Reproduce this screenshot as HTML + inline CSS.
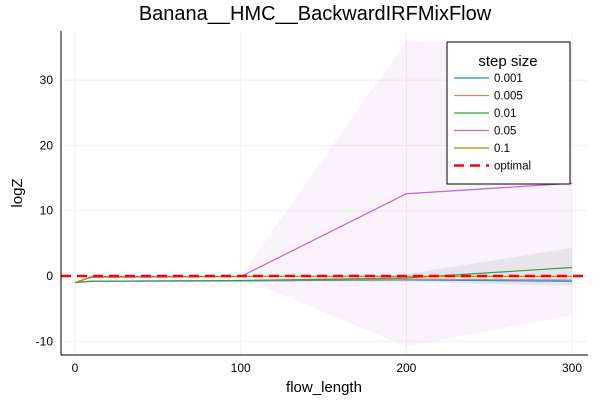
<!DOCTYPE html>
<html><head><meta charset="utf-8"><style>
body{margin:0;background:#fff;}
svg text{font-family:"Liberation Sans","DejaVu Sans",sans-serif;}
</style></head><body>
<svg id="chart" width="600" height="400" viewBox="0 0 600 400">
<rect width="600" height="400" fill="#fff"/>
<text x="315" y="20" font-size="20" text-anchor="middle" fill="#000">Banana__HMC__BackwardIRFMixFlow</text>
<g id="grid"></g>
<g id="bands"></g>
<g id="lines"></g>
<g id="axes"></g>
<text x="324" y="392" font-size="15" text-anchor="middle">flow_length</text>
<text x="22" y="193" font-size="15" text-anchor="middle" transform="rotate(-90 22 193)">logZ</text>
<g id="legend">
<rect x="447" y="42" width="123" height="142" fill="#fff" stroke="#000" stroke-width="1"/>
<text x="508" y="66" font-size="15" text-anchor="middle">step size</text>
</g>
</svg>
<script>
const flowLengths=[0,10,100,200,300];
const seriesNames=["0.001","0.005","0.01","0.05","0.1"];
const s0001=[-1,-0.8,-0.75,-0.6,-0.8];
const s0005=[-1,-0.8,-0.7,-0.5,-0.6];
const s001=[-1,-0.8,-0.7,-0.3,1.3];
const s005=[-1,-0.2,-0.1,12.6,14.2];
const s01=[-1,-0.1,-0.05,-0.05,-0.05];
const band001Lo=[-1,-0.9,-0.9,-0.9,-1.5];
const band001Hi=[-1,-0.7,-0.5,0.3,4.3];
const band005Lo=[-1,-0.3,-0.2,-10.8,-6];
const band005Hi=[-1,-0.1,0,36,35];
const xTicks=[0,100,200,300];
const yTicks=[-10,0,10,20,30];
const optimal=0;
const colors=["#1f8fd6","#e0806a","#3a9e45","#c263d6","#b8860b"];
const sx=v=>75+v*1.6567;
const sy=v=>276-v*6.53;
const NS="http://www.w3.org/2000/svg";
function mk(tag,attrs,parent){const e=document.createElementNS(NS,tag);for(const k in attrs)e.setAttribute(k,attrs[k]);parent.appendChild(e);return e;}
const grid=document.getElementById('grid'),axes=document.getElementById('axes'),bands=document.getElementById('bands'),lines=document.getElementById('lines'),legend=document.getElementById('legend');
xTicks.forEach(t=>{
 const g=mk('line',{x1:sx(t),x2:sx(t),y1:31,y2:355,stroke:'#efefef','stroke-width':1},grid);
 
 
 const l=mk('text',{x:sx(t),y:372,'font-size':12,'text-anchor':'middle'},axes);l.textContent=t;
 
 
});
yTicks.forEach(t=>{
 const g=mk('line',{x1:61,x2:588,y1:sy(t),y2:sy(t),stroke:'#efefef','stroke-width':1},grid);
 
 
 const l=mk('text',{x:53,y:sy(t)+4,'font-size':12,'text-anchor':'end'},axes);l.textContent=t;
 
 
});
mk('line',{x1:61,x2:61,y1:31,y2:355,stroke:'#000'},axes);
mk('line',{x1:61,x2:588,y1:355,y2:355,stroke:'#000'},axes);
function band(lo,hi,color,op,name){
 let d=flowLengths.map((x,i)=>(i?'L':'M')+sx(x)+','+sy(hi[i])).join('');
 d+=flowLengths.slice().reverse().map((x,j)=>{const i=flowLengths.length-1-j;return 'L'+sx(x)+','+sy(lo[i]);}).join('')+'Z';
 const p=mk('path',{d:d,fill:color,'fill-opacity':op,stroke:'none'},bands);
 
 
}
band(band005Lo,band005Hi,'#c263d6',0.08,'band-0.05');
band(band001Lo,band001Hi,'#8a968a',0.15,'band-0.01');
const all=[s0001,s0005,s001,s005,s01];
all.forEach((s,k)=>{
 const p=mk('polyline',{points:flowLengths.map((x,i)=>sx(x)+','+sy(s[i])).join(' '),fill:'none',stroke:colors[k],'stroke-width':1.2},lines);
 
 
});
const opt=mk('line',{x1:61,x2:588,y1:sy(optimal),y2:sy(optimal),stroke:'#ff0000','stroke-width':2.5,'stroke-dasharray':'10,6'},lines);


const labels=seriesNames.concat(['optimal']);
labels.forEach((n,k)=>{
 const y=78+k*17.5;
 const ln=mk('line',{x1:454,x2:489,y1:y,y2:y,stroke:k<5?colors[k]:'#ff0000','stroke-width':k<5?1.2:2.5,'stroke-dasharray':k<5?'':'10,6'},legend);
 
 
 const t=mk('text',{x:494,y:y+4,'font-size':11.5},legend);t.textContent=n;
 
 
});
</script>
</body></html>
